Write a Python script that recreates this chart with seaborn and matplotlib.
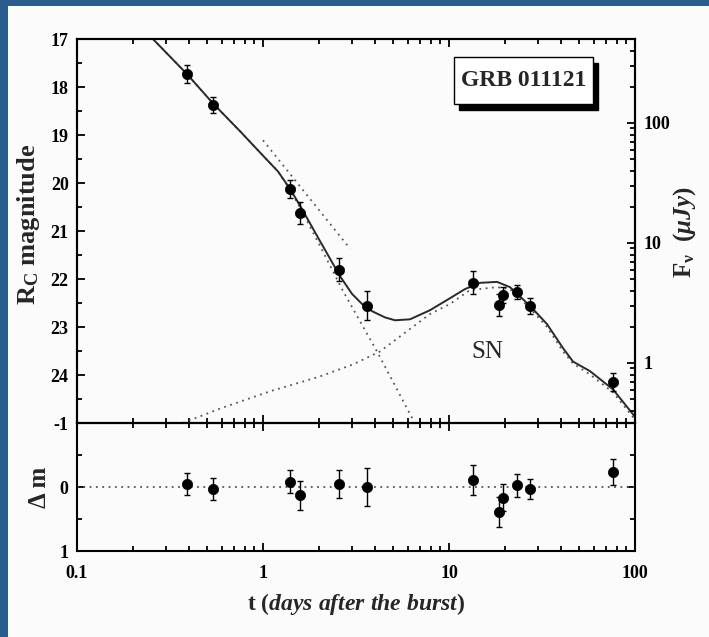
import numpy as np
import pandas as pd
import seaborn as sns
import matplotlib
matplotlib.use("Agg")
import matplotlib.pyplot as plt
from matplotlib.font_manager import FontProperties
from matplotlib.patches import Rectangle
from matplotlib.ticker import (FixedLocator, FuncFormatter, LogLocator,
                               MultipleLocator, NullFormatter)

# --- photometry of GRB 011121 (R_C band) ---
t_obs = [0.39, 0.54, 1.40, 1.58, 2.56, 3.62, 13.5, 18.6, 19.5, 23.2, 27.2, 76.2]
mag_obs = [17.73, 18.38, 20.12, 20.62, 21.81, 22.56, 22.08, 22.54, 22.33, 22.27, 22.56, 24.15]
mag_err = [0.18, 0.17, 0.19, 0.23, 0.24, 0.30, 0.24, 0.23, 0.16, 0.15, 0.16, 0.19]

# residuals with respect to the total model
dm = [-0.05, 0.03, -0.08, 0.13, -0.05, 0.00, -0.11, 0.39, 0.17, -0.03, 0.03, -0.23]
dm_err = [0.17, 0.17, 0.18, 0.23, 0.22, 0.30, 0.23, 0.24, 0.21, 0.18, 0.16, 0.20]

# total model (afterglow + supernova)
model_t = [0.256, 0.390, 0.538, 0.752, 1.0, 1.204, 1.397, 1.581, 2.025, 2.594, 3.010,
           3.406, 3.855, 4.528, 5.126, 6.170, 7.903, 10.13, 12.19, 14.68, 18.12, 21.28,
           27.26, 33.65, 41.02, 46.42, 57.30, 76.15, 100]
model_mag = [17.0, 17.73, 18.34, 18.92, 19.43, 19.76, 20.12, 20.47, 21.21, 21.94, 22.31,
             22.52, 22.67, 22.80, 22.86, 22.84, 22.65, 22.40, 22.21, 22.08, 22.06, 22.17,
             22.56, 22.94, 23.44, 23.72, 23.92, 24.30, 24.87]

# broken power-law afterglow component
ag_t = [0.256, 0.390, 0.538, 0.752, 1.0, 1.204, 1.397, 1.581, 2.025, 2.692, 4.102, 6.404]
ag_mag = [17.0, 17.73, 18.34, 18.92, 19.43, 19.76, 20.14, 20.51, 21.31, 22.25, 23.51, 24.93]

# extrapolation of the early decay
early_t = [1.0, 2.94]
early_mag = [19.11, 21.37]

# supernova component
sn_t = [0.371, 0.587, 1.090, 2.025, 3.047, 4.256, 5.657, 7.903, 10.13, 12.97, 18.12,
        21.28, 27.26, 33.65, 41.02, 46.42, 57.30, 76.15, 100]
sn_mag = [25.0, 24.70, 24.34, 24.03, 23.78, 23.51, 23.15, 22.73, 22.52, 22.23, 22.17,
          22.21, 22.61, 23.00, 23.51, 23.76, 23.99, 24.36, 24.93]

ZP = 23.75  # R_C magnitude of 1 microJansky
x_ticks = [0.1, 1, 10, 100]
mag_ticks = [17, 18, 19, 20, 21, 22, 23, 24]
flux_ticks = [1, 10, 100]
dm_ticks = [-1, 0, 1]

sns.set_theme(style="ticks")
plt.rcParams.update({
    "font.family": ["Liberation Serif", "DejaVu Serif"],
    "font.weight": "bold",
    "mathtext.fontset": "custom",
    "mathtext.rm": "Liberation Serif:bold",
    "mathtext.bf": "Liberation Serif:bold",
    "mathtext.it": "Liberation Serif:italic:bold",
    "axes.linewidth": 1.5,
    "axes.edgecolor": "black",
    "xtick.color": "black",
    "ytick.color": "black",
})

BG = "#fbfbfb"
fig = plt.figure(figsize=(7.09, 6.37), dpi=100, facecolor="#2b5c8e")
fig.patches.append(Rectangle((8 / 709, 0), 1, 1 - 6 / 637, transform=fig.transFigure,
                             facecolor=BG, edgecolor="none", zorder=-10))

W, H = 709, 637
ax1 = fig.add_axes([77 / W, 1 - 423 / H, 558 / W, 384 / H])
ax2 = fig.add_axes([77 / W, 1 - 551 / H, 558 / W, 128 / H], sharex=ax1)
for a in (ax1, ax2):
    a.set_facecolor("none")
    a.set_xscale("log")

dot = (0, (1, 2.5))
curve_kw = dict(ax=ax1, sort=False, legend=False)
sns.lineplot(x=sn_t, y=sn_mag, color="#555555", lw=1.3, linestyle=dot, **curve_kw)
sns.lineplot(x=ag_t, y=ag_mag, color="#555555", lw=1.3, linestyle=dot, **curve_kw)
sns.lineplot(x=early_t, y=early_mag, color="#555555", lw=1.3, linestyle=dot, **curve_kw)
sns.lineplot(x=model_t, y=model_mag, color="#2a2a2a", lw=1.4, **curve_kw)

ax1.errorbar(t_obs, mag_obs, yerr=mag_err, fmt="none", ecolor="black",
             elinewidth=1.0, capsize=2.5, capthick=1.0, zorder=4)
sns.scatterplot(x=t_obs, y=mag_obs, ax=ax1, color="black", s=55,
                edgecolor="black", linewidth=0.5, zorder=5, legend=False)

ax2.axhline(0, color="#555555", lw=1.3, ls=dot, zorder=1)
ax2.errorbar(t_obs, dm, yerr=dm_err, fmt="none", ecolor="black",
             elinewidth=1.0, capsize=2.5, capthick=1.0, zorder=4)
sns.scatterplot(x=t_obs, y=dm, ax=ax2, color="black", s=55,
                edgecolor="black", linewidth=0.5, zorder=5, legend=False)

# axes ranges
ax1.set_xlim(0.1, 100)
ax1.set_ylim(25, 17)
ax2.set_ylim(1, -1)

tick_font = FontProperties(family="Liberation Serif", weight="bold", size=13)

# x axis
for a in (ax1, ax2):
    a.xaxis.set_major_locator(FixedLocator(x_ticks))
    a.xaxis.set_minor_locator(LogLocator(base=10, subs=np.arange(2, 10)))
    a.xaxis.set_minor_formatter(NullFormatter())
ax2.xaxis.set_major_formatter(FuncFormatter(lambda v, p: f"{v:g}"))
ax1.tick_params(axis="x", which="both", labelbottom=False)

# y axes
ax1.yaxis.set_major_locator(FixedLocator(mag_ticks))
ax1.yaxis.set_minor_locator(MultipleLocator(0.5))
ax2.yaxis.set_major_locator(FixedLocator(dm_ticks))
ax2.yaxis.set_minor_locator(MultipleLocator(0.5))
ax2.yaxis.set_major_formatter(FuncFormatter(lambda v, p: f"{v:g}"))

ax1.tick_params(which="both", direction="in", top=True, bottom=True,
                left=True, right=False, width=1.3)
ax2.tick_params(which="both", direction="in", top=True, bottom=True,
                left=True, right=True, width=1.3)
for a in (ax1, ax2):
    a.tick_params(which="major", length=6, pad=6)
    a.tick_params(which="minor", length=3.5)
    for lab in a.get_xticklabels() + a.get_yticklabels():
        lab.set_fontproperties(tick_font)
ax2.tick_params(axis="x", which="major", pad=10)

# flux axis on the right
axr = ax1.twinx()
axr.set_yscale("log")
axr.set_ylim(10 ** (-0.4 * (25 - ZP)), 10 ** (-0.4 * (17 - ZP)))
axr.yaxis.set_major_locator(FixedLocator(flux_ticks))
axr.yaxis.set_major_formatter(FuncFormatter(lambda v, p: f"{v:g}"))
axr.yaxis.set_minor_locator(LogLocator(base=10, subs=np.arange(2, 10)))
axr.yaxis.set_minor_formatter(NullFormatter())
axr.tick_params(which="both", direction="in", width=1.3)
axr.tick_params(which="major", length=6, pad=6)
axr.tick_params(which="minor", length=3.5)
for lab in axr.get_yticklabels():
    lab.set_fontproperties(tick_font)
for s in axr.spines.values():
    s.set_linewidth(1.5)

# labels
ax1.set_ylabel(r"$\mathbf{R_C}$ magnitude", fontsize=19, fontweight="bold")
ax1.yaxis.set_label_coords(-0.062, 0.516)
ax2.set_ylabel("Δ m", fontsize=18, fontweight="bold")
ax2.yaxis.set_label_coords(-0.046, 0.5)
ax2.set_xlabel(r"t $\mathit{(days\ after\ the\ burst)}$", fontsize=17, fontweight="bold")
ax2.xaxis.set_label_coords(0.5, -0.31)
fig.text(685 / W, 1 - 232 / H, r"$\mathbf{F_\nu}$  $\mathit{(\mu Jy)}$",
         rotation=90, ha="center", va="center", fontsize=18)

ax1.text(0.735, 0.185, "SN", transform=ax1.transAxes, ha="center", va="center",
         fontsize=18, fontweight="normal", family="Liberation Serif")

# title box with drop shadow
bx0, bx1, by0, by1 = 0.676, 0.925, 0.831, 0.953
ax1.add_patch(Rectangle((bx0 + 0.009, by0 - 0.016), bx1 - bx0, by1 - by0,
                        transform=ax1.transAxes, facecolor="black",
                        edgecolor="black", zorder=6))
ax1.add_patch(Rectangle((bx0, by0), bx1 - bx0, by1 - by0, transform=ax1.transAxes,
                        facecolor="white", edgecolor="black", lw=1.0, zorder=7))
ax1.text((bx0 + bx1) / 2, (by0 + by1) / 2, "GRB 011121", transform=ax1.transAxes,
         ha="center", va="center", fontsize=17, fontweight="bold", zorder=8)

fig.savefig("out.png", dpi=100, facecolor=fig.get_facecolor())
